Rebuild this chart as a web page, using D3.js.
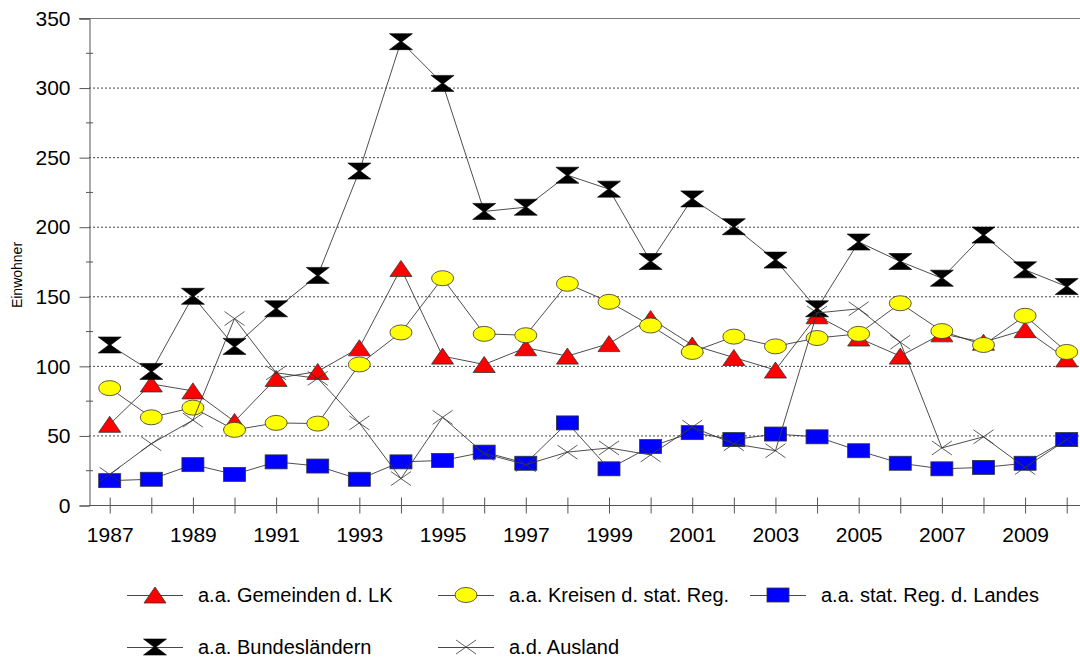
<!DOCTYPE html>
<html>
<head>
<meta charset="utf-8">
<script src="https://cdnjs.cloudflare.com/ajax/libs/d3/7.8.5/d3.min.js"></script>
<style>
  body { margin: 0; background: #fff; }
  svg { display: block; font-family: "Liberation Sans", Arial, sans-serif; }
</style>
</head>
<body>
<script>
(function() {

    var years = d3.range(1987, 2011);
    var yTicks = [0, 50, 100, 150, 200, 250, 300, 350];

    var gemeinden = [58, 87, 82, 60, 91, 96, 113, 170, 107, 101, 113, 107, 116, 134, 115, 106, 97, 136, 120, 107, 123, 117, 126, 105];
    var kreisen = [84, 63, 70, 54, 59, 58.5, 101, 124, 163, 123, 122, 159, 146, 129, 110, 121, 114, 120, 123, 145, 125, 115, 136, 110];
    var statReg = [17.5, 18.5, 29, 22, 31, 28, 18.5, 31, 32, 38, 30, 59, 26, 42, 52, 47, 51, 49, 39, 30, 26, 27, 30, 47];
    var bundeslaender = [115, 96, 150, 114, 141, 165, 240, 333, 303, 211, 214, 237, 227, 175, 220, 200, 176, 141, 189, 175, 163, 194, 169, 157];
    var ausland = [22, 44, 61, 134, 95, 91, 59, 19, 63, 37, 29, 38, 41, 36, 56, 44, 39, 138, 141, 117, 41, 49, 27, 47];

    var seriesNames = ["a.a. Gemeinden d. LK", "a.a. Kreisen d. stat. Reg.", "a.a. stat. Reg. d. Landes", "a.a. Bundesländern", "a.d. Ausland"];

    var width = 1080,
        height = 659,
        left = 89,
        top = 18,
        bottom = 505;

    var x = d3.scaleLinear()
        .domain([1987, 2010])
        .range([109.7, 1066.7]);

    var y = d3.scaleLinear()
        .domain([0, 350])
        .range([bottom, top]);

    var svg = d3.select("body")
        .append("svg")
        .attr("width", width)
        .attr("height", height);

    // gridlines
    svg.selectAll(".grid")
        .data(yTicks.filter(function(d){ return d > 0 && d < 350; }))
        .enter()
        .append("line")
        .attr("x1", left)
        .attr("x2", width)
        .attr("y1", function(d){ return y(d) + 0.5; })
        .attr("y2", function(d){ return y(d) + 0.5; })
        .attr("stroke", "#444")
        .attr("stroke-width", 1)
        .attr("stroke-dasharray", "2,2");

    // top frame line
    svg.append("line")
        .attr("x1", left - 10).attr("x2", width)
        .attr("y1", y(350) + 0.5).attr("y2", y(350) + 0.5)
        .attr("stroke", "#777");

    // y axis
    var yAxis = svg.append("g")
        .attr("transform", "translate(" + (left + 0.5) + ",0.5)")
        .call(d3.axisLeft(y).tickValues(yTicks).tickSize(10).tickPadding(9));
    yAxis.select(".domain").attr("stroke", "#555");
    yAxis.selectAll(".tick line").attr("stroke", "#555");
    yAxis.selectAll(".tick text")
        .attr("font-size", 21)
        .attr("font-family", "Liberation Sans, Arial, sans-serif")
        .attr("fill", "#000");

    // minor y ticks
    svg.selectAll(".minor")
        .data(d3.range(25, 350, 50))
        .enter()
        .append("line")
        .attr("x1", left - 3).attr("x2", left + 4)
        .attr("y1", function(d){ return y(d) + 0.5; })
        .attr("y2", function(d){ return y(d) + 0.5; })
        .attr("stroke", "#555");

    // x axis
    var xAxis = svg.append("g")
        .attr("transform", "translate(0," + (bottom + 0.5) + ")")
        .call(d3.axisBottom(x).tickValues(years).tickSize(8).tickPadding(14)
            .tickFormat(function(d){ return d % 2 === 1 ? d : ""; }));
    xAxis.select(".domain").attr("d", "M" + left + ",0H" + width).attr("stroke", "#555");
    xAxis.selectAll(".tick line").attr("y1", -8).attr("stroke", "#555");
    xAxis.selectAll(".tick text")
        .attr("font-size", 21)
        .attr("font-family", "Liberation Sans, Arial, sans-serif")
        .attr("fill", "#000");

    svg.append("text")
        .attr("transform", "translate(22,275) rotate(-90)")
        .attr("text-anchor", "middle")
        .attr("font-size", 14)
        .text("Einwohner");

    // marker shapes
    function triangle(g){
        g.append("path").attr("d", "M0,-8L11,8L-11,8Z")
            .attr("fill", "#ff0000").attr("stroke", "#333").attr("stroke-width", 0.8);
    }
    function ellipse(g){
        g.append("ellipse").attr("rx", 11).attr("ry", 7.5)
            .attr("fill", "#ffff00").attr("stroke", "#333").attr("stroke-width", 0.8);
    }
    function square(g){
        g.append("rect").attr("x", -11).attr("y", -7).attr("width", 22).attr("height", 14)
            .attr("fill", "#0000ff").attr("stroke", "#333").attr("stroke-width", 0.8);
    }
    function hourglass(g){
        g.append("path").attr("d", "M-11.5,-8L11.5,-8L1,0L11.5,8L-11.5,8L-1,0Z")
            .attr("fill", "#000").attr("stroke", "#000").attr("stroke-width", 0.6);
    }
    function cross(g){
        g.append("path").attr("d", "M-10,-7L10,7M-10,7L10,-7")
            .attr("fill", "none").attr("stroke", "#333").attr("stroke-width", 0.8);
    }

    var series = [
        {name: seriesNames[0], values: gemeinden, marker: triangle},
        {name: seriesNames[1], values: kreisen, marker: ellipse},
        {name: seriesNames[2], values: statReg, marker: square},
        {name: seriesNames[3], values: bundeslaender, marker: hourglass},
        {name: seriesNames[4], values: ausland, marker: cross}
    ];

    var line = d3.line()
        .x(function(d, i){ return x(years[i]); })
        .y(function(d){ return y(d); });

    series.forEach(function(s){
        var g = svg.append("g");
        g.append("path")
            .attr("d", line(s.values))
            .attr("fill", "none")
            .attr("stroke", "#3a3a3a")
            .attr("stroke-width", 0.9);
        g.selectAll(".pt")
            .data(s.values)
            .enter()
            .append("g")
            .attr("transform", function(d, i){
                return "translate(" + x(years[i]) + "," + y(d) + ")";
            })
            .each(function(){ s.marker(d3.select(this)); });
    });

    // legend
    var legendPos = [
        {lx: 127, ly: 595},
        {lx: 438, ly: 595},
        {lx: 750, ly: 595},
        {lx: 127, ly: 647},
        {lx: 438, ly: 647}
    ];

    series.forEach(function(s, i){
        var p = legendPos[i];
        var g = svg.append("g").attr("transform", "translate(" + p.lx + "," + p.ly + ")");
        g.append("line").attr("x1", 0).attr("x2", 56).attr("y1", 0.5).attr("y2", 0.5)
            .attr("stroke", "#333").attr("stroke-width", 0.9);
        var m = g.append("g").attr("transform", "translate(28,0)");
        s.marker(m);
        g.append("text")
            .attr("x", 71)
            .attr("y", 7)
            .attr("font-size", 20)
            .text(s.name);
    });

})();
</script>
</body>
</html>
